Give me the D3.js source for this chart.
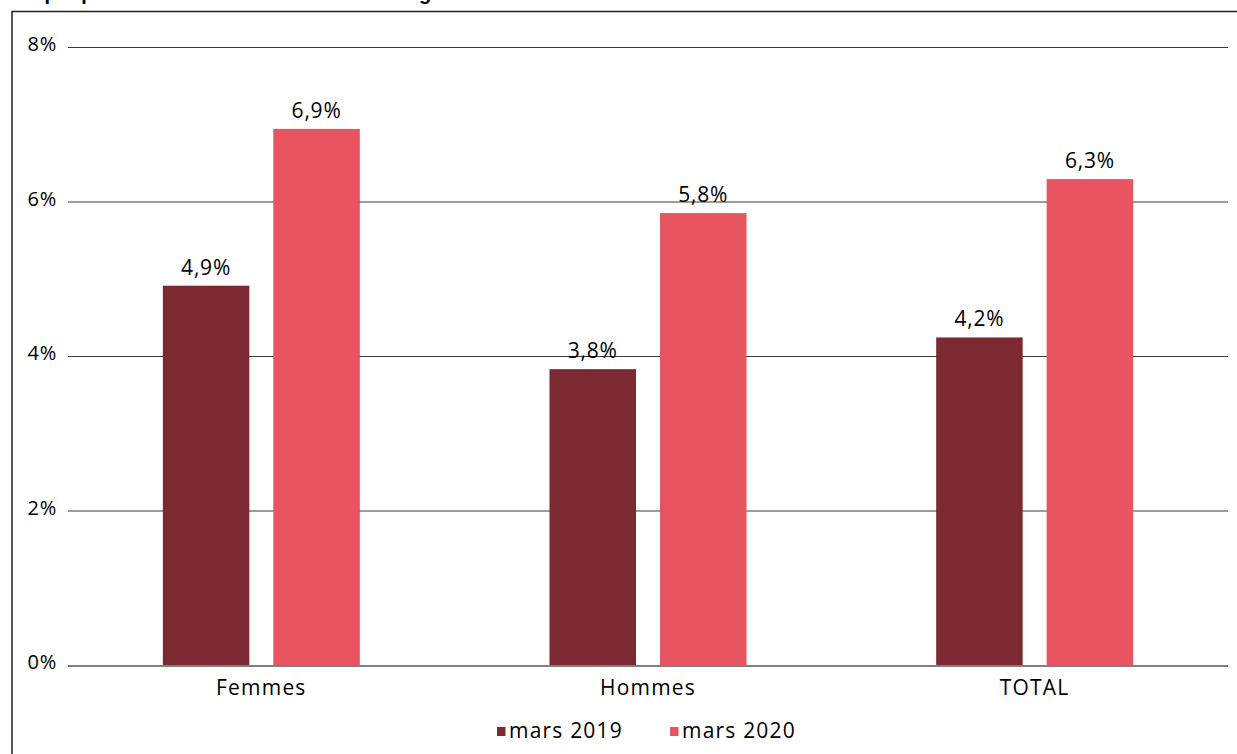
<!DOCTYPE html>
<html>
<head>
<meta charset="utf-8">
<script src="https://cdn.jsdelivr.net/npm/d3@7"></script>
<style>
  html, body { margin: 0; padding: 0; background: #fff; }
  svg { display: block; }
  text { font-family: "Open Sans", "Noto Sans", sans-serif; fill: #000; }
</style>
</head>
<body>
<svg id="chart" width="1237" height="754"></svg>
<script>
const title = "Graphique 1 : Taux d'absentéisme selon le genre en mars 2019 et mars 2020";
const categories = ["Femmes", "Hommes", "TOTAL"];
const seriesNames = ["mars 2019", "mars 2020"];
const values2019 = [4.91, 3.83, 4.24];
const values2020 = [6.94, 5.85, 6.29];
const yTicks = [0, 2, 4, 6, 8];
const colors = ["#7B2A31", "#E95461"];

const svg = d3.select("#chart");
const W = 1237, H = 754;

// title (cut off at top)
svg.append("text")
  .attr("x", 10).attr("y", 0)
  .style("font-family", "'Liberation Sans', Arial, sans-serif")
  .style("font-weight", "bold")
  .style("font-size", "20px")
  .text(title);

// outer frame
svg.append("path")
  .attr("d", `M12,${H + 5} L12,11.5 L${W + 5},11.5`)
  .attr("fill", "none")
  .attr("stroke", "#222")
  .attr("stroke-width", 1.5);

const plotLeft = 68, plotRight = 1228, plotTop = 47, plotBottom = 665;

const y = d3.scaleLinear().domain([0, 8]).range([plotBottom, plotTop]);
const x0 = d3.scaleBand().domain(categories).range([plotLeft, plotRight]).padding(0);
const groupW = 197;
const x1 = d3.scaleBand().domain(seriesNames).range([0, groupW]).paddingInner(0.217).paddingOuter(0);

// gridlines
svg.append("g").selectAll("line")
  .data(yTicks.filter(d => d !== 0))
  .join("line")
  .attr("x1", plotLeft).attr("x2", plotRight)
  .attr("y1", d => y(d) + 0.5).attr("y2", d => y(d) + 0.5)
  .attr("stroke", "#3a3a3a").attr("stroke-width", 1.2);

// y tick labels
svg.append("g").selectAll("text")
  .data(yTicks)
  .join("text")
  .attr("x", 57)
  .attr("y", d => y(d) + 4)
  .attr("text-anchor", "end")
  .style("font-size", "20px")
  .style("letter-spacing", "0.8px")
  .text(d => d + "%");

const rows = categories.map((c, i) => ({ cat: c, vals: [values2019[i], values2020[i]] }));

const fmt = d3.format(".1f");
const groups = svg.append("g").selectAll("g")
  .data(rows)
  .join("g")
  .attr("transform", d => `translate(${x0(d.cat) + (x0.bandwidth() - groupW) / 2},0)`);

groups.selectAll("rect")
  .data(d => d.vals.map((v, j) => ({ s: seriesNames[j], v, j })))
  .join("rect")
  .attr("x", d => x1(d.s))
  .attr("width", x1.bandwidth())
  .attr("y", d => y(d.v))
  .attr("height", d => y(0) - y(d.v))
  .attr("fill", d => colors[d.j]);

groups.selectAll("text")
  .data(d => d.vals.map((v, j) => ({ s: seriesNames[j], v, j })))
  .join("text")
  .attr("x", d => x1(d.s) + x1.bandwidth() / 2)
  .attr("y", d => y(d.v) - 11)
  .attr("text-anchor", "middle")
  .style("font-size", "21px")
  .style("letter-spacing", "0.8px")
  .text(d => fmt(d.v).replace(".", ",") + "%");

// baseline
svg.append("line")
  .attr("x1", plotLeft).attr("x2", plotRight)
  .attr("y1", y(0) + 1).attr("y2", y(0) + 1)
  .attr("stroke", "#808080").attr("stroke-width", 2);

// category labels
svg.append("g").selectAll("text")
  .data(categories)
  .join("text")
  .attr("x", d => x0(d) + x0.bandwidth() / 2)
  .attr("y", 695)
  .attr("text-anchor", "middle")
  .style("font-size", "21px")
  .style("letter-spacing", "1.2px")
  .text(d => d);

// legend
const legendX = [497, 670];
const leg = svg.append("g").selectAll("g")
  .data(seriesNames)
  .join("g")
  .attr("transform", (d, i) => `translate(${legendX[i]},0)`);
leg.append("rect")
  .attr("x", 0).attr("y", 727)
  .attr("width", 8.5).attr("height", 9)
  .attr("fill", (d, i) => colors[i]);
leg.append("text")
  .attr("x", 12).attr("y", 738)
  .style("font-size", "21px")
  .style("letter-spacing", "1.2px")
  .text(d => d);
</script>
</body>
</html>
